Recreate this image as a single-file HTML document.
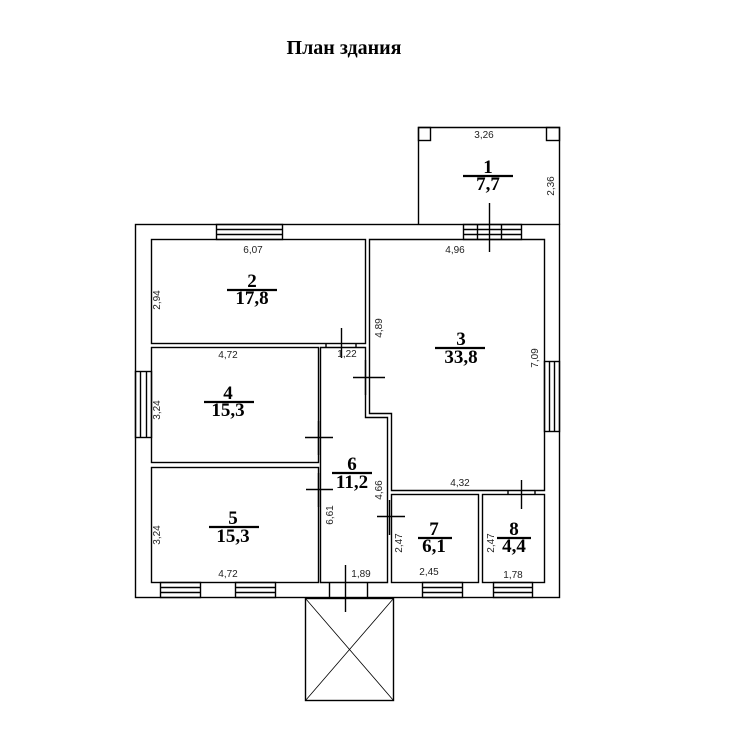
<!DOCTYPE html>
<html><head><meta charset="utf-8"><style>
html,body{margin:0;padding:0;background:#fff;}
svg{display:block}
.d{font-family:"Liberation Sans",sans-serif;font-size:10px;fill:#222}
.n{font-family:"Liberation Serif",serif;font-size:19px;font-weight:bold;fill:#000}
</style></head><body>
<svg width="730" height="746" viewBox="0 0 730 746" xmlns="http://www.w3.org/2000/svg">
<rect width="730" height="746" fill="#fff"/>
<text x="344" y="54" text-anchor="middle" style="font-family:'Liberation Serif',serif;font-size:20px;font-weight:bold">План здания</text>
<g fill="none" stroke="#000" stroke-width="1.4">
<rect x="135.5" y="224.5" width="424" height="373"/>
<path d="M418.5 224.5V127.5H559.5V224.5"/>
<rect x="418.5" y="127.5" width="12" height="13"/>
<rect x="546.5" y="127.5" width="13" height="13"/>
<rect x="151.5" y="239.5" width="214" height="104"/>
<path d="M369.5 239.5H544.5V490.5H391.5V413.5H369.5Z"/>
<rect x="151.5" y="347.5" width="167" height="115"/>
<rect x="151.5" y="467.5" width="167" height="115"/>
<path d="M320.5 347.5H365.5V417.5H387.5V582.5H320.5Z"/>
<rect x="391.5" y="494.5" width="87" height="88"/>
<rect x="482.5" y="494.5" width="62" height="88"/>
<rect x="216.5" y="224.5" width="66" height="15"/><path d="M216.5 229.5H282.5M216.5 234.5H282.5"/>
<rect x="463.5" y="224.5" width="58" height="15"/><path d="M463.5 229.5H521.5M463.5 234.5H521.5M477.5 224.5V239.5M501.5 224.5V239.5"/>
<rect x="135.5" y="371.5" width="16" height="66"/><path d="M140.5 371.5V437.5M146.5 371.5V437.5"/>
<rect x="544.5" y="361.5" width="15" height="70"/><path d="M549.5 361.5V431.5M554.5 361.5V431.5"/>
<rect x="160.5" y="582.5" width="40" height="15"/><path d="M160.5 587.5H200.5M160.5 592.5H200.5"/>
<rect x="235.5" y="582.5" width="40" height="15"/><path d="M235.5 587.5H275.5M235.5 592.5H275.5"/>
<rect x="422.5" y="582.5" width="40" height="15"/><path d="M422.5 587.5H462.5M422.5 592.5H462.5"/>
<rect x="493.5" y="582.5" width="39" height="15"/><path d="M493.5 587.5H532.5M493.5 592.5H532.5"/>
<path d="M329.5 582.5V597.5M367.5 582.5V597.5"/>
<rect x="305.5" y="598.5" width="88" height="102"/>
<path d="M305.5 598.5L393.5 700.5M393.5 598.5L305.5 700.5" stroke-width="0.8"/>
<path d="M489.5 203V252"/>
<path d="M341.5 328V358M326 343.5V347.5M356 343.5V347.5"/>
<path d="M353 377.5H385M365.5 360V395"/>
<path d="M305 437.5H333M318.5 421V455"/>
<path d="M306 489.5H333M318.5 473V507"/>
<path d="M377 516.5H405M389.5 500V535"/>
<path d="M521.5 480V509M508 490.5V494.5M535 490.5V494.5"/>
<path d="M345.5 565V612"/>
</g>
<g class="d">
<text x="484" y="138" text-anchor="middle">3,26</text>
<text x="253" y="253" text-anchor="middle">6,07</text>
<text x="455" y="253" text-anchor="middle">4,96</text>
<text x="228" y="358" text-anchor="middle">4,72</text>
<text x="347" y="357" text-anchor="middle">1,22</text>
<text x="460" y="486" text-anchor="middle">4,32</text>
<text x="228" y="577" text-anchor="middle">4,72</text>
<text x="361" y="577" text-anchor="middle">1,89</text>
<text x="429" y="575" text-anchor="middle">2,45</text>
<text x="513" y="578" text-anchor="middle">1,78</text>
<text transform="translate(554,186) rotate(-90)" text-anchor="middle">2,36</text>
<text transform="translate(160,300) rotate(-90)" text-anchor="middle">2,94</text>
<text transform="translate(382,328) rotate(-90)" text-anchor="middle">4,89</text>
<text transform="translate(538,358) rotate(-90)" text-anchor="middle">7,09</text>
<text transform="translate(160,410) rotate(-90)" text-anchor="middle">3,24</text>
<text transform="translate(160,535) rotate(-90)" text-anchor="middle">3,24</text>
<text transform="translate(333,515) rotate(-90)" text-anchor="middle">6,61</text>
<text transform="translate(382,490) rotate(-90)" text-anchor="middle">4,66</text>
<text transform="translate(402,543) rotate(-90)" text-anchor="middle">2,47</text>
<text transform="translate(494,543) rotate(-90)" text-anchor="middle">2,47</text>
</g>
<g class="n" text-anchor="middle">
<text x="488" y="173">1</text><text x="488" y="190">7,7</text>
<text x="252" y="287">2</text><text x="252" y="304">17,8</text>
<text x="461" y="345">3</text><text x="461" y="363">33,8</text>
<text x="228" y="399">4</text><text x="228" y="416">15,3</text>
<text x="233" y="524">5</text><text x="233" y="542">15,3</text>
<text x="352" y="470">6</text><text x="352" y="488">11,2</text>
<text x="434" y="535">7</text><text x="434" y="552">6,1</text>
<text x="514" y="535">8</text><text x="514" y="552">4,4</text>
</g>
<g stroke="#000" stroke-width="2.2">
<path d="M463 176H513M227 290H277M435 348H485M204 402H254M209 527H259M332 473H372M418 538H452M497 538H531"/>
</g>
</svg>
</body></html>
